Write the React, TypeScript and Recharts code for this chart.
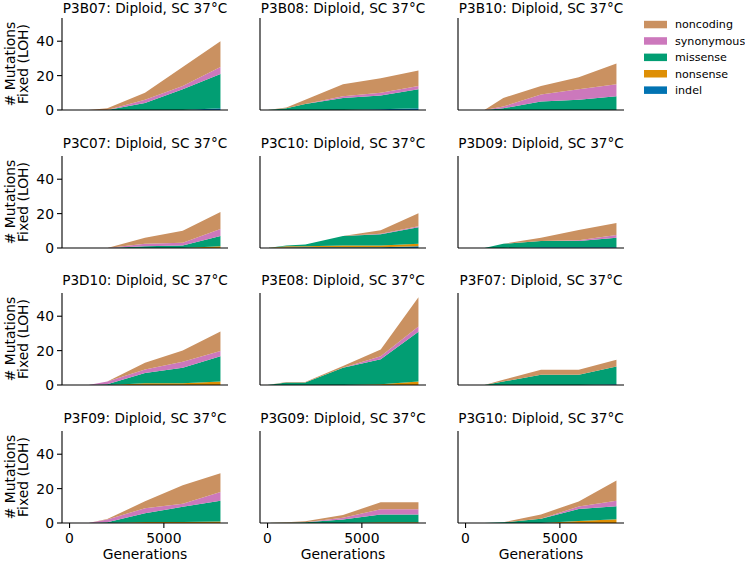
import React from 'react';
import { AreaChart, Area, XAxis, YAxis } from 'recharts';

// generations sampled for every population
const generations = [0, 1000, 2000, 4000, 6000, 8000];

const populations = [
  'P3B07', 'P3B08', 'P3B10',
  'P3C07', 'P3C10', 'P3D09',
  'P3D10', 'P3E08', 'P3F07',
  'P3F09', 'P3G09', 'P3G10',
];

// one row per population, one value per generation
const indel = [
  [0, 0, 0, 0, 0, 1],
  [0, 0, 0, 0, 0.5, 1],
  [0, 0, 0, 0, 0, 0],
  [0, 0, 0, 0, 0, 0],
  [0, 0.3, 0.5, 0.5, 0.5, 1],
  [0, 0, 0, 0.5, 0.5, 0.5],
  [0, 0, 0, 0, 0, 0],
  [0, 0, 0, 0, 0, 0],
  [0, 0, 0, 0, 0, 0.5],
  [0, 0, 0, 0, 0, 0],
  [0, 0, 0, 0, 0, 0],
  [0, 0, 0, 0, 0, 0],
];

const nonsense = [
  [0, 0, 0, 0, 0, 0],
  [0, 0, 0, 0, 0, 0],
  [0, 0, 0, 0, 0, 0],
  [0, 0, 0, 0, 0, 1],
  [0, 0.7, 0.5, 1, 1, 1.5],
  [0, 0, 0, 0, 0, 0],
  [0, 0, 0, 1, 1, 2],
  [0, 0, 0, 0, 0.5, 2],
  [0, 0, 0, 0, 0, 0],
  [0, 0, 0, 0.6, 0.6, 0.8],
  [0, 0, 0, 0, 0.5, 0.5],
  [0, 0, 0, 0, 1.2, 2.2],
];

const missense = [
  [0, 0, 0, 4, 12, 20],
  [0, 1, 3.5, 7, 8, 11],
  [0, 0, 1, 5, 6, 8],
  [0, 0, 0, 1, 1.5, 6],
  [0, 0.5, 1, 5.5, 6.5, 9.5],
  [0, 0, 2.5, 3.5, 3.5, 5.5],
  [0, 0, 0.5, 6, 9, 14.7],
  [0, 1.4, 1.4, 10, 14.5, 29],
  [0, 0, 2, 6, 6, 10.3],
  [0, 0, 0.4, 5, 8.8, 12.2],
  [0, 0.2, 0.5, 2, 4.4, 4.4],
  [0, 0, 0.4, 2.4, 7, 7.6],
];

const synonymous = [
  [0, 0, 0, 2, 2, 4],
  [0, 0, 0, 1, 1.5, 2],
  [0, 0, 1, 4, 6, 7],
  [0, 0, 0, 1.5, 1.5, 4],
  [0, 0, 0, 0, 0.3, 0.7],
  [0, 0, 0, 0, 0.5, 1.6],
  [0, 0, 1.5, 2, 3.5, 3],
  [0, 0, 0, 0, 1.7, 3],
  [0, 0, 0, 0, 0, 0],
  [0, 0, 1.6, 3, 1.8, 5],
  [0, 0, 0, 1.1, 3.1, 3.1],
  [0, 0, 0, 0, 1.4, 3.2],
];

const noncoding = [
  [0, 0, 1, 4, 11, 15],
  [0, 0.5, 2.5, 7, 8.5, 9],
  [0, 0, 5, 5, 7, 12],
  [0, 0, 0, 3.5, 7, 10],
  [0, 0, 0, 0, 2, 7.5],
  [0, 0, 0, 2, 6, 7],
  [0, 0, 0, 4, 6.5, 11.4],
  [0, 0.4, 0.4, 1, 4, 17],
  [0, 0, 1, 2.8, 2.8, 3.9],
  [0, 0, 0.3, 4, 10.8, 11],
  [0, 0.2, 0.5, 1.6, 4, 4],
  [0, 0, 0, 2.6, 2.9, 11.7],
];

const xTicks = [0, 5000];
const yTicks = [0, 20, 40];

// bottom of the stack first
const series = [
  { key: 'indel', color: '#0173b2', values: indel },
  { key: 'nonsense', color: '#de8f05', values: nonsense },
  { key: 'missense', color: '#029e73', values: missense },
  { key: 'synonymous', color: '#cc78bc', values: synonymous },
  { key: 'noncoding', color: '#ca9161', values: noncoding },
];

const FONT = 'DejaVu Sans';
const COL_X = [62, 260, 458];
const ROW_Y = [18, 156, 293, 431];
const PLOT_W = 166;
const PLOT_H = 92;
const Y_AXIS_W = 40;
const X_AXIS_H = 30;
const PAD_TOP = 4;
const PAD_RIGHT = 4;

const tickFont = { fill: '#000', fontSize: 13.9, fontFamily: FONT };
const lineStyle = { stroke: '#000', strokeWidth: 1.1 };

function Panel({ idx }: { idx: number }) {
  const row = Math.floor(idx / 3);
  const col = idx % 3;
  const data = generations.map((g, i) => {
    const rec: any = { g };
    series.forEach((s) => {
      rec[s.key] = s.values[idx][i];
    });
    return rec;
  });

  return (
    <div style={{ position: 'absolute', left: COL_X[col] - Y_AXIS_W, top: ROW_Y[row] - PAD_TOP }}>
      <AreaChart
        width={Y_AXIS_W + PLOT_W + PAD_RIGHT}
        height={PAD_TOP + PLOT_H + X_AXIS_H}
        data={data}
        margin={{ top: PAD_TOP, right: PAD_RIGHT, left: 0, bottom: 0 }}
      >
        <XAxis
          dataKey="g"
          type="number"
          domain={[-400, 8400]}
          allowDataOverflow
          ticks={xTicks}
          height={X_AXIS_H}
          tick={row === 3 ? tickFont : false}
          tickSize={5}
          tickMargin={5}
          axisLine={lineStyle}
          tickLine={lineStyle}
        />
        <YAxis
          type="number"
          domain={[0, 53.5]}
          allowDataOverflow
          ticks={yTicks}
          width={Y_AXIS_W}
          tick={col === 0 ? tickFont : false}
          tickSize={5}
          tickMargin={3}
          axisLine={lineStyle}
          tickLine={lineStyle}
        />
        {series.map((s) => (
          <Area
            key={s.key}
            dataKey={s.key}
            stackId="a"
            type="linear"
            stroke="none"
            fill={s.color}
            fillOpacity={1}
            isAnimationActive={false}
            dot={false}
            activeDot={false}
          />
        ))}
      </AreaChart>
    </div>
  );
}

export default function App() {
  const legendItems = [...series].reverse();
  return (
    <div style={{ position: 'absolute', left: 0, top: 0, width: 745, height: 561, background: '#fff' }}>
      {populations.map((p, i) => (
        <Panel key={p} idx={i} />
      ))}
      <svg
        width={745}
        height={561}
        style={{ position: 'absolute', left: 0, top: 0, pointerEvents: 'none' }}
        fontFamily={FONT}
      >
        {populations.map((p, i) => {
          const row = Math.floor(i / 3);
          const col = i % 3;
          // the top row sits right at the page edge, keep it inside
          const y = row === 0 ? 12.5 : ROW_Y[row] - 8;
          return (
            <text
              key={p}
              x={COL_X[col] + PLOT_W / 2}
              y={y}
              textAnchor="middle"
              fontSize={13.6}
              fill="#000"
            >
              {`${p}: Diploid, SC 37°C`}
            </text>
          );
        })}
        {ROW_Y.map((y) => {
          const cy = y + PLOT_H / 2;
          return (
            <g key={y}>
              <text transform={`translate(15, ${cy}) rotate(-90)`} textAnchor="middle" fontSize={13.9} fill="#000">
                # Mutations
              </text>
              <text transform={`translate(28, ${cy}) rotate(-90)`} textAnchor="middle" fontSize={13.9} fill="#000">
                Fixed (LOH)
              </text>
            </g>
          );
        })}
        {COL_X.map((x) => (
          <text key={x} x={x + PLOT_W / 2} y={558.5} textAnchor="middle" fontSize={13.9} fill="#000">
            Generations
          </text>
        ))}
        {legendItems.map((s, i) => (
          <g key={s.key}>
            <rect x={644} y={20.8 + i * 16.4} width={23} height={7.5} fill={s.color} />
            <text x={675} y={28.3 + i * 16.4} fontSize={11.1} fill="#000">
              {s.key}
            </text>
          </g>
        ))}
      </svg>
    </div>
  );
}
